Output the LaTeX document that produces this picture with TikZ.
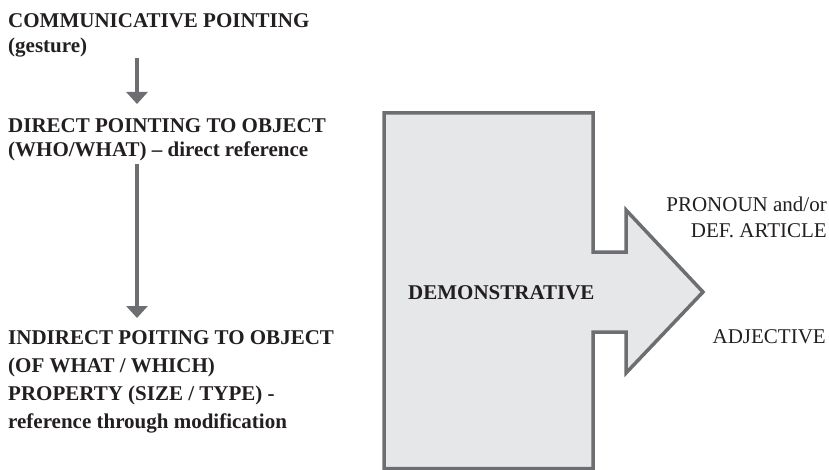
\documentclass[tikz,border=0pt]{standalone}
\usepackage{fontspec}
\setmainfont{Liberation Serif}
\usetikzlibrary{arrows.meta}
\definecolor{framegray}{HTML}{6D6E71}
\definecolor{fillgray}{HTML}{E6E7E8}
\definecolor{inkblack}{HTML}{231F20}
\begin{document}
\begin{tikzpicture}[x=1pt,y=-1pt,
  lefttext/.style={anchor=base west,inner sep=0pt,align=left,text=inkblack,
    font=\bfseries\fontsize{21}{25}\selectfont},
  righttext/.style={anchor=base east,inner sep=0pt,align=right,text=inkblack,
    font=\fontsize{21}{26}\selectfont},
  flow/.style={draw=framegray,line width=3.5pt,-{Triangle[width=21pt,length=12pt]}}]
\useasboundingbox (0,0) rectangle (829,470);
% left column (base = last line)
\node[lefttext] (comm) at (8,53) {COMMUNICATIVE POINTING\\(gesture)};
\node[lefttext,font=\bfseries\fontsize{21}{24}\selectfont] (direct) at (8,157)
  {DIRECT POINTING TO OBJECT\\(WHO/WHAT) -- direct reference};
\node[lefttext,font=\bfseries\fontsize{21}{28}\selectfont] (indirect) at (8,428)
  {INDIRECT POITING TO OBJECT\\(OF WHAT / WHICH)\\PROPERTY (SIZE / TYPE) -\\reference through modification};
\coordinate (c1) at (137,58);
\coordinate (c2) at (137,164);
\draw[flow] (c1) -- (c1 |- 0,104);
\draw[flow] (c2) -- (c2 |- 0,318);
% the big arrow
\draw[draw=framegray,fill=fillgray,line width=3.5pt,line join=miter]
  (384,113) -- (593,113) -- (593,252) -- (626,252) -- (626,210) -- (703,292)
  -- (626,373) -- (626,332) -- (593,332) -- (593,468.5) -- (384,468.5) -- cycle;
\node[anchor=base west,inner sep=0pt,text=inkblack,font=\bfseries\fontsize{21}{24}\selectfont]
  (demo) at (408,299) {DEMONSTRATIVE};
% right column
\node[righttext] (pron) at (827,238) {PRONOUN and/or\\DEF. ARTICLE};
\node[righttext] (adj) at (826,343) {ADJECTIVE};
\end{tikzpicture}
\end{document}
